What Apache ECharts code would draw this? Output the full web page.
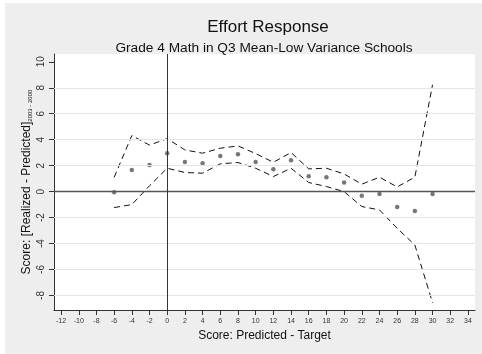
<!DOCTYPE html>
<html>
<head>
<meta charset="utf-8">
<script src="https://cdn.jsdelivr.net/npm/echarts@6/dist/echarts.min.js"></script>
<style>
  html, body { margin: 0; padding: 0; background: #fff; }
  #chart { width: 482px; height: 354px; }
</style>
</head>
<body>
<div id="chart"></div>
<script>
// Predicted-minus-target score bins
const scoreGap = [-6, -4, -2, 0, 2, 4, 6, 8, 10, 12, 14, 16, 18, 20, 22, 24, 26, 28, 30];
// Mean effort response per bin
const estimate = [-0.05, 1.67, 2.05, 2.96, 2.29, 2.19, 2.75, 2.88, 2.29, 1.72, 2.42, 1.19, 1.11, 0.70, -0.31, -0.18, -1.18, -1.49, -0.18];
// Confidence band
const upperBand = [1.10, 4.32, 3.58, 4.08, 3.21, 2.96, 3.34, 3.52, 2.93, 2.26, 3.01, 1.75, 1.80, 1.36, 0.57, 1.11, 0.36, 1.11, 8.23];
const lowerBand = [-1.23, -1.00, 0.45, 1.80, 1.47, 1.42, 2.14, 2.24, 1.80, 1.16, 1.80, 0.70, 0.39, 0.00, -1.15, -1.41, -2.83, -4.11, -8.56];

// Axis tick labels and reference gridlines
const xTicks = [-12, -10, -8, -6, -4, -2, 0, 2, 4, 6, 8, 10, 12, 14, 16, 18, 20, 22, 24, 26, 28, 30, 32, 34];
const yTicks = [-8, -6, -4, -2, 0, 2, 4, 6, 8, 10];
const yGrid = [-8, -6, -4, -2, 2, 4, 6, 8];

const FONT = 'Liberation Sans, Arial, Helvetica, sans-serif';
const zip = (a, b) => a.map((v, i) => [v, b[i]]);

const chart = echarts.init(document.getElementById('chart'), null, { renderer: 'canvas' });

chart.setOption({
  animation: false,
  backgroundColor: '#ffffff',
  textStyle: { fontFamily: FONT },
  graphic: [{
    type: 'rect', z: -10, silent: true,
    shape: { x: 5, y: 3, width: 477, height: 351 },
    style: { fill: '#eeeeee' }
  }],
  title: [
    {
      text: 'Effort Response', left: 263, top: 14, textAlign: 'center',
      textStyle: { fontFamily: FONT, fontSize: 17, fontWeight: 'normal', color: '#111' }
    },
    {
      text: 'Grade 4 Math in Q3 Mean-Low Variance Schools', left: 259, top: 36, textAlign: 'center',
      textStyle: { fontFamily: FONT, fontSize: 13.7, fontWeight: 'normal', color: '#111' }
    }
  ],
  grid: {
    left: 54, right: 7, top: 54, bottom: 44,
    show: true, backgroundColor: '#ffffff', borderWidth: 0
  },
  xAxis: {
    type: 'value', min: -12.8, max: 34.8,
    name: 'Score: Predicted - Target',
    nameLocation: 'middle', nameGap: 20, nameMoveOverlap: false,
    nameTextStyle: { fontFamily: FONT, fontSize: 12, color: '#111' },
    axisLine: { show: true, onZero: false, lineStyle: { color: '#333', width: 1 } },
    axisTick: { show: true, length: 5, customValues: xTicks, lineStyle: { color: '#333' } },
    axisLabel: { customValues: xTicks, margin: 8, fontSize: 7, color: '#333', fontFamily: FONT },
    splitLine: { show: false }
  },
  yAxis: {
    type: 'value', min: -9.12, max: 10.6,
    name: '{m|Score: [Realized - Predicted]}{s|2003 - 2000}',
    nameLocation: 'middle', nameGap: 21, nameRotate: 90, nameMoveOverlap: false,
    nameTextStyle: {
      fontFamily: FONT, fontSize: 12, color: '#111',
      rich: {
        m: { fontFamily: FONT, fontSize: 12, color: '#111', lineHeight: 12, verticalAlign: 'middle' },
        s: { fontFamily: FONT, fontSize: 6, color: '#111', lineHeight: 12, verticalAlign: 'bottom' }
      }
    },
    axisLine: { show: true, onZero: false, lineStyle: { color: '#333', width: 1 } },
    axisTick: { show: true, length: 5, customValues: yTicks, lineStyle: { color: '#333' } },
    axisLabel: { customValues: yTicks, rotate: 90, margin: 8, fontSize: 10, color: '#333', fontFamily: FONT },
    splitLine: { show: false }
  },
  series: [
    {
      // gridlines and zero reference lines
      type: 'line', data: [], silent: true,
      markLine: {
        silent: true, symbol: 'none', animation: false,
        label: { show: false },
        data: yGrid.map(v => ({ yAxis: v, lineStyle: { color: '#e6e6e6', width: 1, type: 'solid' } }))
          .concat([
            { yAxis: 0, lineStyle: { color: '#555', width: 1.3, type: 'solid' } },
            { xAxis: 0, lineStyle: { color: '#333', width: 1, type: 'solid' } }
          ])
      }
    },
    {
      name: 'upper', type: 'line', data: zip(scoreGap, upperBand),
      symbol: 'none', lineStyle: { color: '#111', width: 1, type: [6, 4] }, z: 3
    },
    {
      name: 'lower', type: 'line', data: zip(scoreGap, lowerBand),
      symbol: 'none', lineStyle: { color: '#111', width: 1, type: [6, 4] }, z: 3
    },
    {
      name: 'estimate', type: 'scatter', data: zip(scoreGap, estimate),
      symbol: 'circle', symbolSize: 4.5, itemStyle: { color: '#555' }, z: 4
    }
  ]
});
</script>
</body>
</html>
